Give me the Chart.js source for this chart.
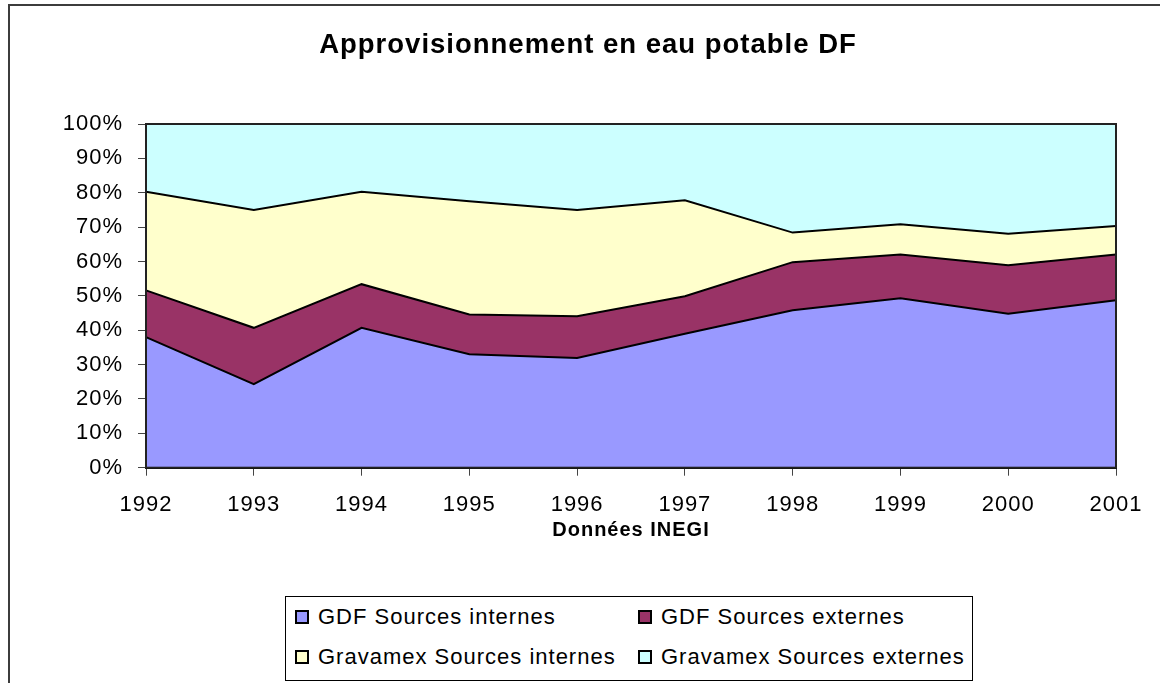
<!DOCTYPE html>
<html>
<head>
<meta charset="utf-8">
<title>Approvisionnement en eau potable DF</title>
<script src="https://cdn.jsdelivr.net/npm/chart.js@4.4.1/dist/chart.umd.min.js"></script>
<style>
    body { margin: 0; background: #fff; overflow: hidden; }
    #frame {
        position: absolute; left: 8px; top: 4px; width: 1170px; height: 720px;
        border: 2px solid #3c3c3c; box-sizing: border-box;
    }
    #chart { position: absolute; left: 8px; top: 0; }
    #legend {
        position: absolute; left: 285px; top: 596px; width: 688px; height: 85px;
        border: 1px solid #000; box-sizing: border-box; background: #fff;
        font: 22px "Liberation Sans", Arial, sans-serif; letter-spacing: 1px; color: #000;
    }
    .item { position: absolute; height: 26px; display: flex; align-items: center; white-space: nowrap; }
    .swatch { width: 10px; height: 10px; border: 2px solid #000; margin-right: 9px; }
</style>
</head>
<body>
<div id="frame"></div>
<canvas id="chart" width="1160" height="683"></canvas>
<div id="legend"></div>
<script>
// Years on the x axis
const years = ['1992', '1993', '1994', '1995', '1996', '1997', '1998', '1999', '2000', '2001'];

// Share of each source (percent of total)
const gdfInternes      = [38.0, 24.3, 40.7, 33.0, 31.9, 39.0, 45.8, 49.3, 44.8, 48.7];
const gdfExternes      = [13.6, 16.4, 12.7, 11.6, 12.2, 10.9, 14.0, 12.7, 14.1, 13.3];
const gravamexInternes = [28.7, 34.3, 26.9, 32.9, 30.9, 27.9,  8.6,  8.8,  9.2,  8.3];
const gravamexExternes = [19.7, 25.0, 19.7, 22.5, 25.0, 22.2, 31.6, 29.2, 31.9, 29.7];

const seriesNames  = ['GDF Sources internes', 'GDF Sources externes', 'Gravamex Sources internes', 'Gravamex Sources externes'];
const seriesColors = ['#9999ff', '#993366', '#ffffcc', '#ccffff'];

const fontFamily = '"Liberation Sans", Arial, sans-serif';

// Excel-like text is slightly wider than the canvas default
const spacingPlugin = {
    id: 'spacing',
    beforeLayout(chart) { chart.ctx.letterSpacing = '1px'; },
    beforeDraw(chart) { chart.ctx.letterSpacing = '1px'; }
};

// Frame around the plot area, drawn above the filled areas
const plotFrame = {
    id: 'plotFrame',
    afterDatasetsDraw(chart) {
        const { ctx, chartArea: a } = chart;
        ctx.save();
        ctx.strokeStyle = '#222';
        ctx.lineWidth = 2;
        ctx.strokeRect(a.left, a.top, a.right - a.left, a.bottom - a.top);
        ctx.restore();
    }
};

function makeDataset(i, values) {
    return {
        label: seriesNames[i],
        data: values,
        backgroundColor: seriesColors[i],
        borderColor: '#000',
        borderWidth: 2,
        pointRadius: 0,
        tension: 0,
        fill: i === 0 ? 'origin' : '-1'
    };
}

const ctx = document.getElementById('chart').getContext('2d');

const chart = new Chart(ctx, {
    type: 'line',
    data: {
        labels: years,
        datasets: [
            makeDataset(0, gdfInternes),
            makeDataset(1, gdfExternes),
            makeDataset(2, gravamexInternes),
            makeDataset(3, gravamexExternes)
        ]
    },
    plugins: [spacingPlugin, plotFrame],
    options: {
        responsive: false,
        animation: false,
        layout: {
            padding: 0
        },
        plugins: {
            legend: { display: false },
            tooltip: { enabled: false },
            title: {
                display: true,
                text: 'Approvisionnement en eau potable DF',
                color: '#000',
                font: { family: fontFamily, size: 27.5, weight: 'bold' },
                padding: { top: 29, bottom: 62 }
            }
        },
        scales: {
            x: {
                offset: false,
                grid: {
                    drawOnChartArea: false,
                    color: '#444',
                    tickLength: 8,
                    offset: false
                },
                border: { display: true, color: '#000', width: 2 },
                ticks: {
                    color: '#000',
                    padding: 16,
                    maxRotation: 0,
                    autoSkip: false,
                    font: { family: fontFamily, size: 22 }
                },
                title: {
                    display: true,
                    text: 'Données INEGI',
                    color: '#000',
                    font: { family: fontFamily, size: 20, weight: 'bold' },
                    padding: { top: 0, bottom: 141 }
                },
                afterFit(scale) { scale.height = 215.3; }
            },
            y: {
                stacked: true,
                min: 0,
                max: 100,
                grid: {
                    drawOnChartArea: false,
                    color: '#444',
                    tickLength: 8
                },
                border: { display: true, color: '#000', width: 2 },
                ticks: {
                    stepSize: 10,
                    color: '#000',
                    padding: 15,
                    font: { family: fontFamily, size: 22 },
                    callback: function(value) {
                        return value + '%';
                    }
                },
                afterFit(scale) { scale.width = 138; }
            },
            // empty right-hand box: keeps the plot narrower while the title stays centred on the whole chart
            spacer: {
                position: 'right',
                display: true,
                grid: { display: false },
                border: { display: false },
                ticks: { display: false },
                afterFit(scale) { scale.width = 52; }
            }
        }
    }
});

// HTML legend laid out in two aligned columns like the original
const legendEl = document.getElementById('legend');
const colLeft = [9, 352];
const rowTop = [7, 47];
chart.data.datasets.forEach((ds, i) => {
    const item = document.createElement('div');
    item.className = 'item';
    item.style.left = colLeft[i % 2] + 'px';
    item.style.top = rowTop[Math.floor(i / 2)] + 'px';
    const sw = document.createElement('span');
    sw.className = 'swatch';
    sw.style.background = ds.backgroundColor;
    const txt = document.createElement('span');
    txt.textContent = ds.label;
    item.appendChild(sw);
    item.appendChild(txt);
    legendEl.appendChild(item);
});
</script>
</body>
</html>
